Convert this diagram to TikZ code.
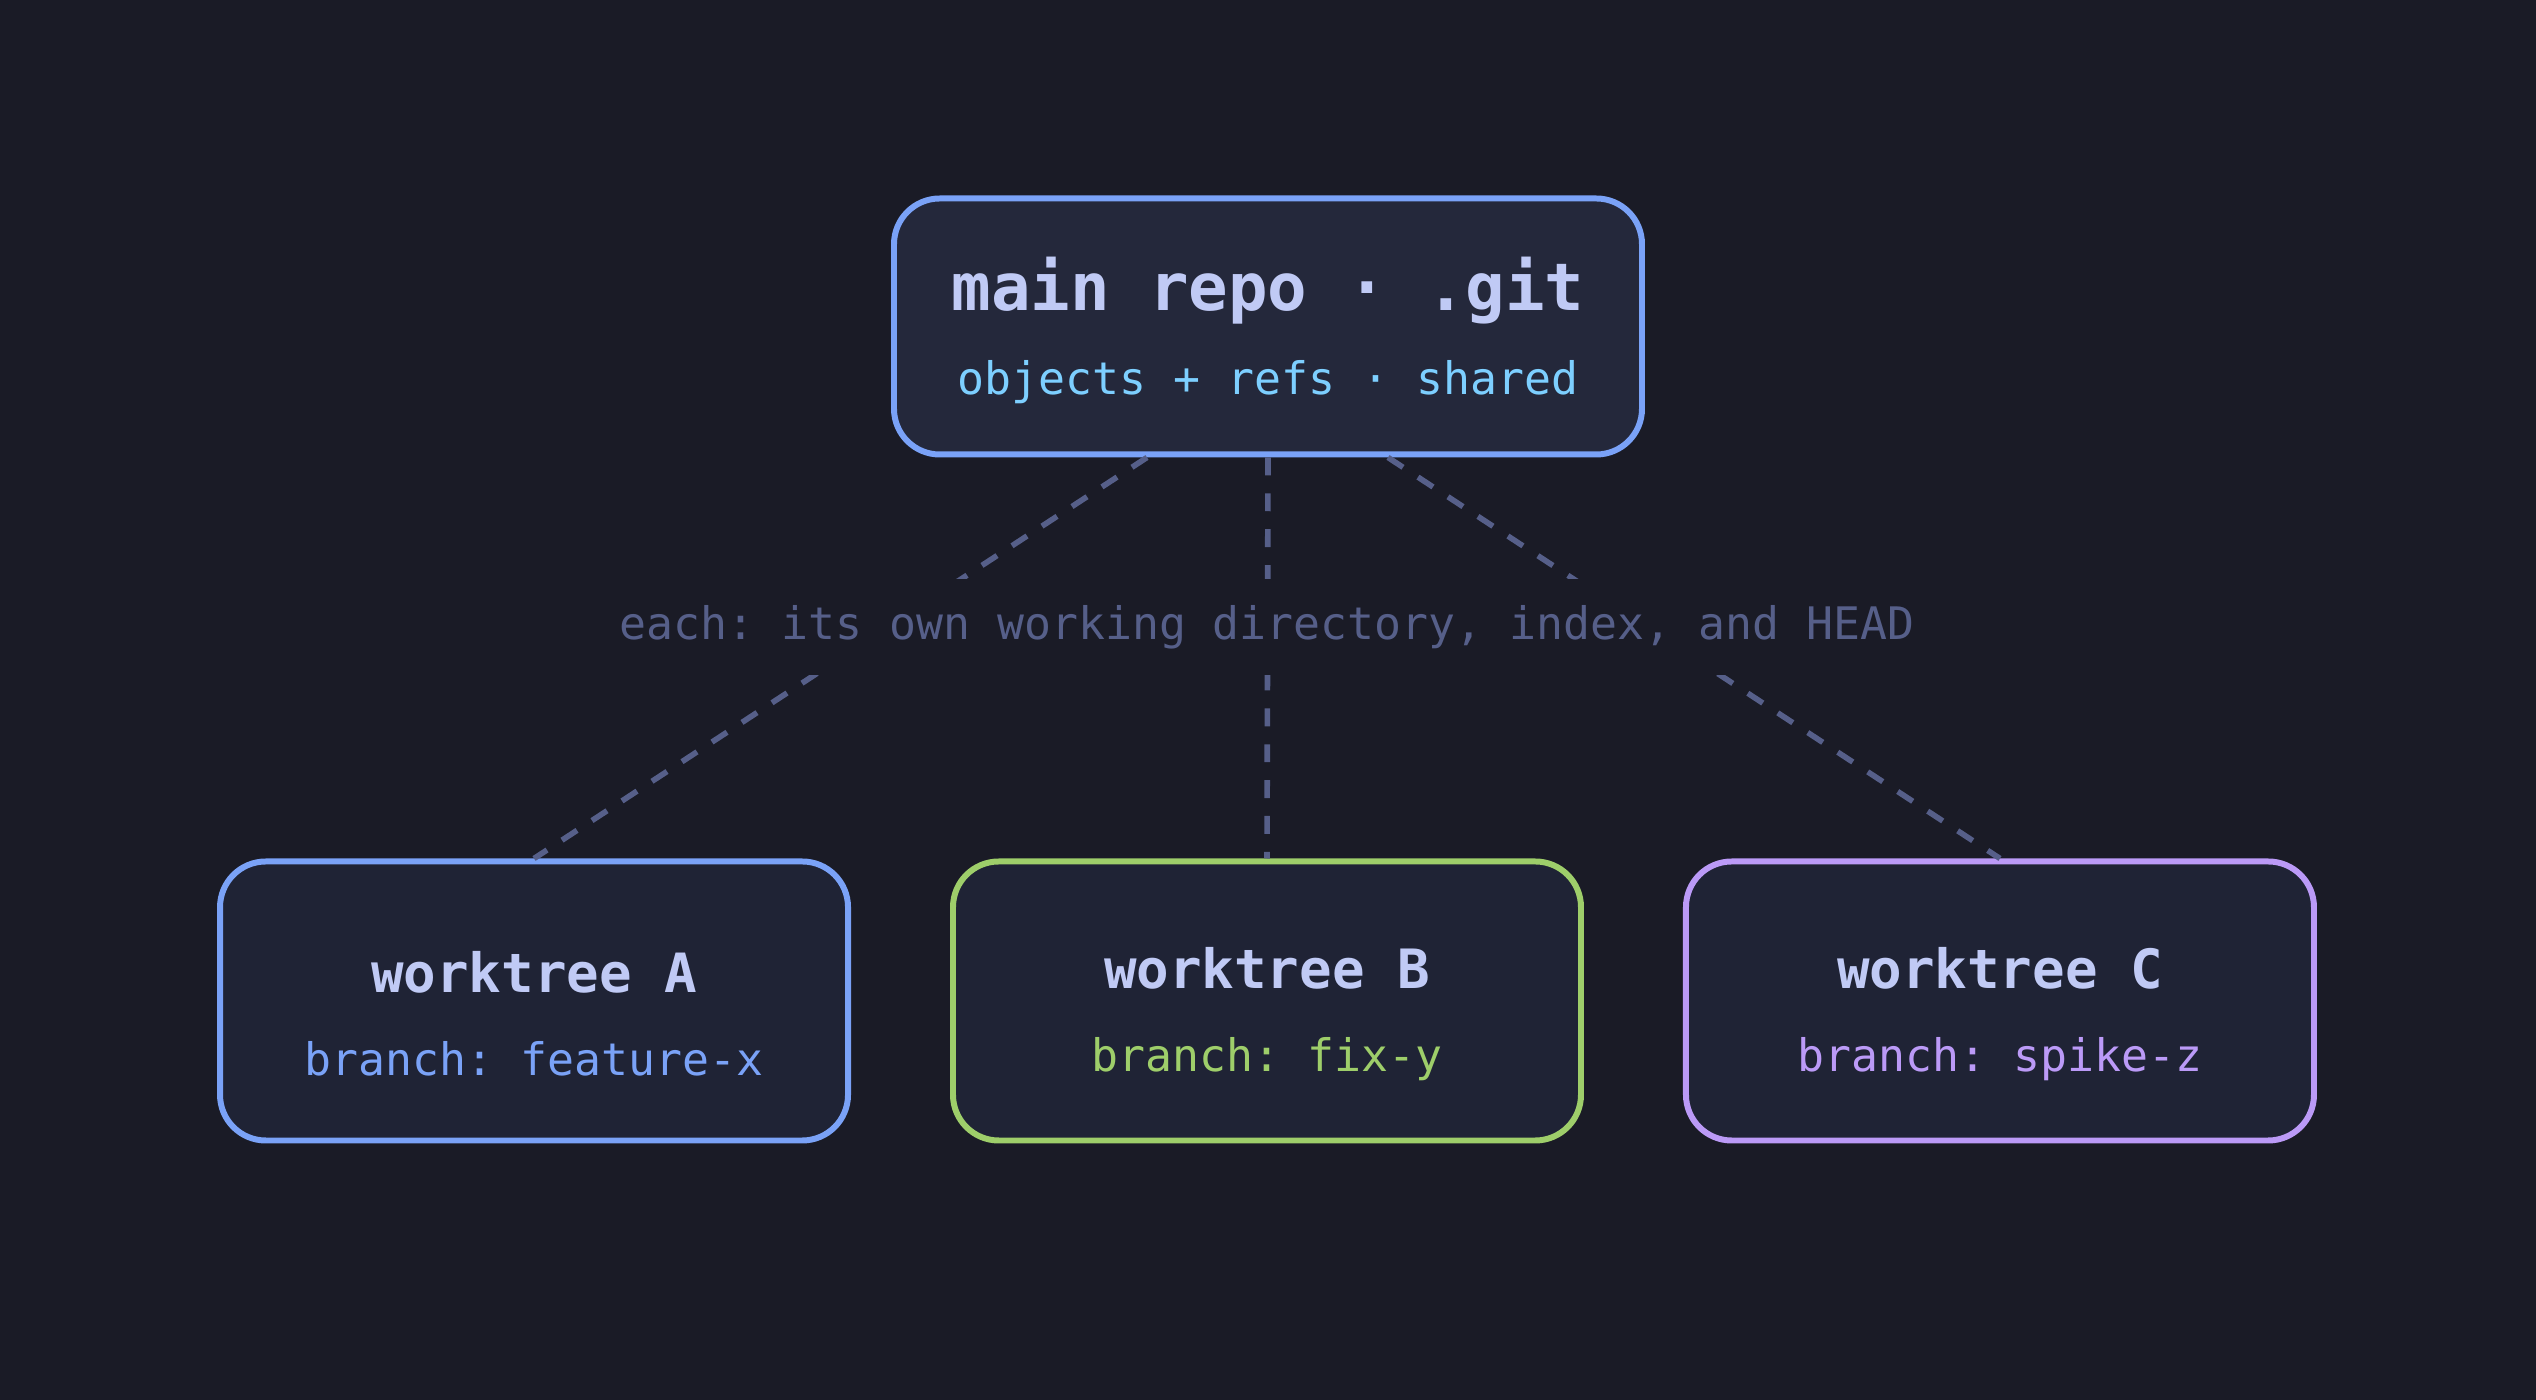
\documentclass[tikz,border=0pt]{standalone}
\usepackage{fontspec}
\usepackage{tikz}
\usetikzlibrary{positioning, calc}

\newfontfamily\codefont{DejaVu Sans Mono}
\frenchspacing

\definecolor{bgdark}{HTML}{1A1B26}
\definecolor{repofill}{HTML}{24283B}
\definecolor{treefill}{HTML}{1F2335}
\definecolor{titletext}{HTML}{C0CAF5}
\definecolor{sharedcyan}{HTML}{7DCFFF}
\definecolor{gitblue}{HTML}{7AA2F7}
\definecolor{fixgreen}{HTML}{9ECE6A}
\definecolor{spikepurple}{HTML}{BB9AF7}
\definecolor{linkgray}{HTML}{565F89}

\begin{document}
\begin{tikzpicture}[
    node distance=0.99cm,
    box/.style={draw, line width=1.7pt, rounded corners=13pt, align=center, inner sep=0pt},
    repo/.style={box, draw=gitblue, fill=repofill, minimum width=7.48cm, minimum height=2.56cm,
                 font=\codefont\fontsize{12.75pt}{24pt}\selectfont},
    tree/.style={box, fill=treefill, minimum width=6.28cm, minimum height=2.79cm,
                 font=\codefont\fontsize{12.75pt}{23.5pt}\selectfont},
    link/.style={draw=linkgray, line width=1.6pt, dash pattern=on 5.1pt off 5.1pt},
    note/.style={fill=bgdark, text=linkgray, inner xsep=3pt, minimum height=0.96cm,
                 font=\codefont\fontsize{12.75pt}{15pt}\selectfont},
]
\useasboundingbox[fill=bgdark] (0,0) rectangle (25.36,14);

% Row 1: shared repository
\node[repo] (main) at (12.68,10.735)
  {{\fontsize{18.7pt}{24pt}\selectfont\bfseries\color{titletext}\rule{0pt}{17.5pt}main repo · .git}\\
   {\color{sharedcyan}objects + refs · shared}};

% Row 2: worktrees
\node[tree, draw=fixgreen] (wtB) at (12.67,3.99)
  {{\fontsize{15.4pt}{23.5pt}\selectfont\bfseries\color{titletext}\rule{0pt}{19pt}worktree B}\\
   {\color{fixgreen}branch: fix-y}};
\node[tree, draw=gitblue, left=of wtB] (wtA)
  {{\fontsize{15.4pt}{23.5pt}\selectfont\bfseries\color{titletext}\rule{0pt}{19pt}worktree A}\\
   {\color{gitblue}branch: feature-x}};
\node[tree, draw=spikepurple, right=of wtB] (wtC)
  {{\fontsize{15.4pt}{23.5pt}\selectfont\bfseries\color{titletext}\rule{0pt}{19pt}worktree C}\\
   {\color{spikepurple}branch: spike-z}};

% links
\draw[link] ($(main.south)+(-1.21,0)$) -- (wtA.north);
\draw[link] (main.south) -- (wtB.north);
\draw[link] ($(main.south)+(1.2,0)$) -- (wtC.north);

\node[note] (each) at (12.67,7.73) {each: its own working directory, index, and HEAD};

\end{tikzpicture}
\end{document}
